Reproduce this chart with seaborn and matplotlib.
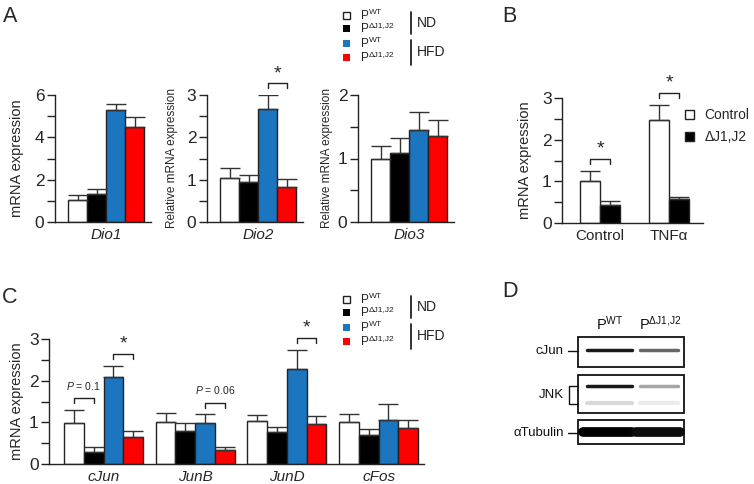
import matplotlib
matplotlib.use('Agg')
import matplotlib.pyplot as plt
import seaborn as sns
import pandas as pd
from matplotlib.patches import Rectangle, Patch
from matplotlib.container import BarContainer

sns.set_style('ticks')
plt.rcParams['font.family'] = ['Liberation Sans', 'DejaVu Sans']
plt.rcParams['mathtext.fontset'] = 'custom'
plt.rcParams['mathtext.rm'] = 'Liberation Sans'
plt.rcParams['mathtext.it'] = 'Liberation Sans:italic'

# ---- data ----
groups = ['WT ND', 'dJ ND', 'WT HFD', 'dJ HFD']
group_colors = ['white', 'black', '#1b75bf', '#ff0000']
genotype_sup = ['WT', 'ΔJ1,J2', 'WT', 'ΔJ1,J2']
diet_labels = ['ND', 'HFD']

# panel A: deiodinases (mean, sem per group)
dio_genes = ['Dio1', 'Dio2', 'Dio3']
dio1_mean = [1.04, 1.30, 5.27, 4.47]
dio1_sem = [0.24, 0.26, 0.32, 0.49]
dio2_mean = [1.03, 0.95, 2.68, 0.82]
dio2_sem = [0.24, 0.15, 0.31, 0.19]
dio3_mean = [0.99, 1.09, 1.45, 1.35]
dio3_sem = [0.21, 0.24, 0.28, 0.26]

# panel B: cells, control vs TNFa
b_conditions = ['Control', 'TNFα']
b_groups = ['Control', 'ΔJ1,J2']
b_colors = ['white', 'black']
b_mean = [[1.00, 2.47], [0.43, 0.58]]
b_sem = [[0.25, 0.36], [0.11, 0.04]]

# panel C: AP-1 genes
c_genes = ['cJun', 'JunB', 'JunD', 'cFos']
c_mean = [[0.99, 1.02, 1.03, 1.02],
          [0.29, 0.80, 0.76, 0.69],
          [2.08, 0.98, 2.29, 1.06],
          [0.64, 0.33, 0.96, 0.86]]
c_sem = [[0.31, 0.20, 0.14, 0.19],
         [0.11, 0.18, 0.13, 0.15],
         [0.28, 0.21, 0.45, 0.38],
         [0.16, 0.09, 0.19, 0.19]]

# significance marks: (category index, group a, group b, text)
dio2_sig = [(0, 2, 3, '*')]
b_sig = [(0, 0, 1, '*'), (1, 0, 1, '*')]
c_sig = [(0, 0, 1, '$P$ = 0.1'), (0, 2, 3, '*'), (1, 2, 3, '$P$ = 0.06'), (2, 2, 3, '*')]

# panel D: western blot band strengths (WT lane, mutant lane)
blot_rows = ['cJun', 'JNK', 'αTubulin']
blot_lanes = [r'P$^{\mathrm{WT}}$', r'P$^{\Delta\mathrm{J1{,}J2}}$']
cjun_band = [0.9, 0.6]
jnk_upper_band = [0.9, 0.35]
jnk_lower_band = [0.15, 0.08]
tubulin_band = [1.0, 0.95]

W, H = 754, 484
fig = plt.figure(figsize=(W / 100, H / 100), dpi=100)
ov = fig.add_axes([0, 0, 1, 1])
ov.set_xlim(0, W)
ov.set_ylim(H, 0)
ov.axis('off')


def bar_panel(x0, unit, xlim, top, bottom, cats, hue_names, colors, means, sems,
              width, ymax, major, minor, ylabel, ylabel_x, ylabel_size, italic, sig):
    left = x0 + xlim[0] * unit
    right = x0 + xlim[1] * unit
    ax = fig.add_axes([left / W, 1 - bottom / H, (right - left) / W, (bottom - top) / H])
    ax.set_facecolor('none')
    rows = []
    for g, name in enumerate(hue_names):
        for j, cat in enumerate(cats):
            rows.append({'cat': cat, 'group': name, 'value': means[g][j]})
    df = pd.DataFrame(rows)
    sns.barplot(data=df, x='cat', y='value', hue='group', order=cats, hue_order=hue_names,
                palette=colors, saturation=1, width=width, edgecolor='#222', linewidth=1,
                errorbar=None, legend=False, ax=ax)
    bar_conts = [c for c in ax.containers if isinstance(c, BarContainer)]
    tops = {}
    for g, cont in enumerate(bar_conts):
        for j, bar in enumerate(cont):
            x = bar.get_x() + bar.get_width() / 2
            h = bar.get_height()
            ax.errorbar(x, h, yerr=[[0], [sems[g][j]]], color='#333', lw=1,
                        capsize=7.5, capthick=1, zorder=3)
            tops[(j, g)] = (x, h + sems[g][j])
    ax.set_xlim(*xlim)
    ax.set_ylim(0, ymax)
    ax.set_yticks(major)
    ax.set_yticks(minor, minor=True)
    ax.tick_params(axis='y', which='both', length=5.5, width=1, color='#222',
                   labelsize=12.5, pad=2)
    ax.tick_params(axis='x', length=0, labelsize=11, pad=4)
    if italic:
        for lab in ax.get_xticklabels():
            lab.set_style('italic')
    ax.set_xlabel('')
    ax.set_ylabel(ylabel, fontsize=ylabel_size)
    ax.yaxis.label.set_va('center')
    ax.yaxis.set_label_coords((ylabel_x - left) / (right - left), 0.5)
    sns.despine(ax=ax)
    for s in ['left', 'bottom']:
        ax.spines[s].set_color('#222')
        ax.spines[s].set_linewidth(1)
    for j, ga, gb, txt in sig:
        xa, ta = tops[(j, ga)]
        xb, tb = tops[(j, gb)]
        y = max(ta, tb) + 0.095 * ymax
        d = 0.04 * ymax
        ax.plot([xa, xa, xb, xb], [y - d, y, y, y - d], color='#222', lw=1, clip_on=False)
        if txt == '*':
            ax.text((xa + xb) / 2, y + 0.01 * ymax, txt, ha='center', va='bottom',
                    fontsize=14, clip_on=False)
        else:
            ax.text((xa + xb) / 2, y + 0.05 * ymax, txt, ha='center', va='bottom',
                    fontsize=7.5, clip_on=False)
    return ax


# ---- panel A ----
dio_means = [dio1_mean, dio2_mean, dio3_mean]
dio_sems = [dio1_sem, dio2_sem, dio3_sem]
dio_specs = [
    (106, 6, [0, 2, 4, 6], [1, 3, 5], 'mRNA expression', 17, 10.5, []),
    (258, 3, [0, 1, 2, 3], [0.5, 1.5, 2.5], 'Relative mRNA expression', 172, 8.5, dio2_sig),
    (409, 2, [0, 1, 2], [0.5, 1.5], 'Relative mRNA expression', 327, 8.5, []),
]
for k, gene in enumerate(dio_genes):
    x0, ymax, major, minor, ylab, ylx, yls, sig = dio_specs[k]
    means = [[v] for v in dio_means[k]]
    sems = [[v] for v in dio_sems[k]]
    bar_panel(x0, 95, (-0.54, 0.47), 95, 222, [gene], groups, group_colors, means, sems,
              0.8, ymax, major, minor, ylab, ylx, yls, True, sig)

# ---- panel B ----
axb = bar_panel(600, 69, (-0.55, 1.49), 98, 223, b_conditions, b_groups, b_colors,
                b_mean, b_sem, 0.57, 3, [0, 1, 2, 3], [0.5, 1.5, 2.5],
                'mRNA expression', 525, 10.5, False, b_sig)
axb.legend(handles=[Patch(facecolor=c, edgecolor='#222', lw=1) for c in b_colors],
           labels=b_groups, loc='upper left', bbox_to_anchor=(0.875, 0.92),
           handlelength=0.6, handleheight=0.6, handletextpad=0.8, labelspacing=0.6,
           frameon=False, fontsize=10, borderaxespad=0, borderpad=0)

# ---- panel C ----
bar_panel(103.5, 91.7, (-0.594, 3.496), 339, 464, c_genes, groups, group_colors,
          c_mean, c_sem, 0.86, 3, [0, 1, 2, 3], [0.5, 1.5, 2.5],
          'mRNA expression', 17, 10.5, True, c_sig)


# ---- group legends for A and C ----
def group_legend(y0):
    offs = [0, 13, 28, 42]
    for k in range(4):
        y = y0 + offs[k]
        ov.add_patch(Rectangle((343, y - 3.5), 7, 7, facecolor=group_colors[k],
                               edgecolor='#222', lw=1 if k == 0 else 0))
        ov.text(361, y + 4, 'P', fontsize=8.5, va='baseline', color='#222')
        ov.text(369, y - 0.5, genotype_sup[k], fontsize=6, va='baseline', color='#222')
    for (a, b), txt in zip([(-3, 19), (25, 50)], diet_labels):
        ov.plot([411, 411], [y0 + a, y0 + b], color='#222', lw=1.3)
        ov.text(417, y0 + (a + b) / 2, txt, fontsize=10, va='center', color='#222')


group_legend(15)
group_legend(299)

# ---- panel D: blot ----
box_spans = [(337, 367), (375, 413), (420, 444)]
for y1, y2 in box_spans:
    ov.add_patch(Rectangle((578, y1), 106, y2 - y1, facecolor='white', edgecolor='#111', lw=1.3))

lane_x = [(587, 632), (640, 678)]
bands = [(350, 2.5, cjun_band, lane_x), (386, 2.5, jnk_upper_band, lane_x),
         (403, 3, jnk_lower_band, lane_x), (432, 7, tubulin_band, [(583, 632), (636, 680)])]
for y, lw, strength, lanes in bands:
    for (xa, xb), s in zip(lanes, strength):
        ov.plot([xa, xb], [y, y], color=str(1 - s), lw=lw, solid_capstyle='round')

row_y = [351, 395, 433]
for name, y in zip(blot_rows, row_y):
    ov.text(564, y, name, ha='right', va='center', fontsize=9.5, color='#111')
ov.plot([568, 578], [351, 351], color='#111', lw=1)
ov.plot([568, 578], [433, 433], color='#111', lw=1)
ov.plot([578, 569, 569, 578], [386, 386, 404, 404], color='#111', lw=1)
ov.text(610, 330, blot_lanes[0], ha='center', va='baseline', fontsize=10.5, color='#111')
ov.text(660, 330, blot_lanes[1], ha='center', va='baseline', fontsize=10.5, color='#111')

# ---- panel letters ----
for letter, x, y in [('A', 3, 22), ('B', 502, 22), ('C', 2, 303), ('D', 502, 297)]:
    ov.text(x, y, letter, fontsize=15.5, va='baseline', ha='left')

fig.savefig('out.png', dpi=100)
